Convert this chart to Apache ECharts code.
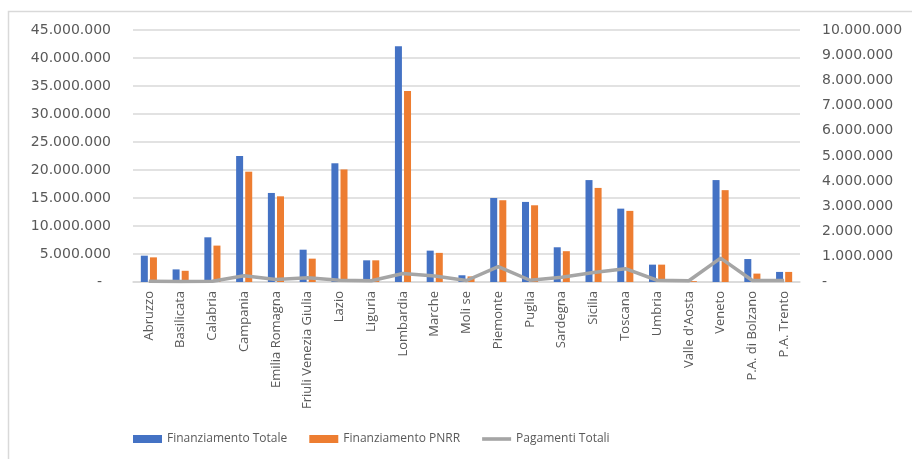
<!DOCTYPE html>
<html>
<head>
<meta charset="utf-8">
<script src="https://cdn.jsdelivr.net/npm/echarts@6/dist/echarts.min.js"></script>
<style>
  html, body { margin: 0; padding: 0; background: #fff; }
  #chart { width: 912px; height: 459px; }
</style>
</head>
<body>
<div id="chart"></div>
<script>
// Regions
const regioni = [
  'Abruzzo', 'Basilicata', 'Calabria', 'Campania', 'Emilia Romagna',
  'Friuli Venezia Giulia', 'Lazio', 'Liguria', 'Lombardia', 'Marche',
  'Moli se', 'Piemonte', 'Puglia', 'Sardegna', 'Sicilia', 'Toscana',
  'Umbria', "Valle d'Aosta", 'Veneto', 'P.A. di Bolzano', 'P.A. Trento'
];

// Total funding (left axis)
const finanziamentoTotale = [
  4700000, 2250000, 7980000, 22500000, 15900000,
  5770000, 21200000, 3870000, 42100000, 5600000,
  1200000, 15000000, 14300000, 6200000, 18200000, 13100000,
  3100000, 150000, 18200000, 4100000, 1800000
];

// PNRR funding (left axis)
const finanziamentoPNRR = [
  4400000, 2000000, 6500000, 19700000, 15300000,
  4170000, 20100000, 3870000, 34100000, 5200000,
  1000000, 14600000, 13700000, 5500000, 16800000, 12700000,
  3100000, 150000, 16400000, 1500000, 1800000
];

// Total payments (right axis)
const pagamentiTotali = [
  30000, 20000, 30000, 250000, 100000,
  170000, 70000, 50000, 340000, 240000,
  60000, 610000, 70000, 190000, 380000, 530000,
  70000, 50000, 950000, 60000, 60000
];

const leftMax = 45000000, leftStep = 5000000;
const rightMax = 10000000, rightStep = 1000000;

function fmt(v) {
  if (v === 0) return '-';
  return String(Math.round(v)).replace(/\B(?=(\d{3})+(?!\d))/g, '.');
}

const textColor = '#595959';
const gridColor = '#D9D9D9';
const textFont = '"Open Sans", "Noto Sans", sans-serif';
const numFont = '"DejaVu Sans", sans-serif';

const chart = echarts.init(document.getElementById('chart'), null, { renderer: 'canvas' });
chart.setOption({
  animation: false,
  backgroundColor: '#fff',
  textStyle: { fontFamily: textFont },
  graphic: [{
    type: 'rect',
    shape: { x: 8.5, y: 11.5, width: 1200, height: 1200 },
    style: { fill: 'none', stroke: '#D9D9D9', lineWidth: 1.5 },
    silent: true,
    z: -10
  }],
  grid: { left: 133, right: 112, top: 30, bottom: 177, containLabel: false },
  legend: {
    bottom: 9,
    left: 128,
    itemWidth: 29,
    itemHeight: 8,
    itemGap: 22,
    textStyle: { color: textColor, fontSize: 12, fontFamily: textFont },
    data: [
      { name: 'Finanziamento Totale', icon: 'rect' },
      { name: 'Finanziamento PNRR', icon: 'rect' },
      { name: 'Pagamenti Totali', icon: 'path://M0,0 L32,0 L32,4 L0,4 Z' }
    ]
  },
  xAxis: {
    type: 'category',
    data: regioni,
    axisLine: { show: true, lineStyle: { color: gridColor, width: 1.5 } },
    axisTick: { show: false },
    axisLabel: {
      rotate: 90,
      interval: 0,
      color: textColor,
      fontSize: 13,
      fontFamily: textFont,
      margin: 9
    }
  },
  yAxis: [{
    type: 'value',
    min: 0,
    max: leftMax,
    interval: leftStep,
    axisLine: { show: false },
    axisTick: { show: false },
    splitLine: { lineStyle: { color: gridColor, width: 1.5 } },
    axisLabel: {
      color: textColor,
      fontSize: 14,
      fontFamily: numFont,
      margin: 22,
      formatter: v => v === 0 ? '-  ' : fmt(v)
    }
  }, {
    type: 'value',
    min: 0,
    max: rightMax,
    interval: rightStep,
    position: 'right',
    axisLine: { show: false },
    axisTick: { show: false },
    splitLine: { show: false },
    axisLabel: {
      color: textColor,
      fontSize: 14,
      fontFamily: numFont,
      margin: 22,
      formatter: v => fmt(v)
    }
  }],
  series: [{
    name: 'Finanziamento Totale',
    type: 'bar',
    data: finanziamentoTotale,
    barWidth: 7,
    barGap: '30%',
    itemStyle: { color: '#4472C4' }
  }, {
    name: 'Finanziamento PNRR',
    type: 'bar',
    data: finanziamentoPNRR,
    barWidth: 7,
    barGap: '30%',
    itemStyle: { color: '#ED7D31' }
  }, {
    name: 'Pagamenti Totali',
    type: 'line',
    yAxisIndex: 1,
    data: pagamentiTotali,
    symbol: 'none',
    lineStyle: { color: '#A5A5A5', width: 3.5 },
    itemStyle: { color: '#A5A5A5' },
    z: 5
  }]
});
</script>
</body>
</html>
